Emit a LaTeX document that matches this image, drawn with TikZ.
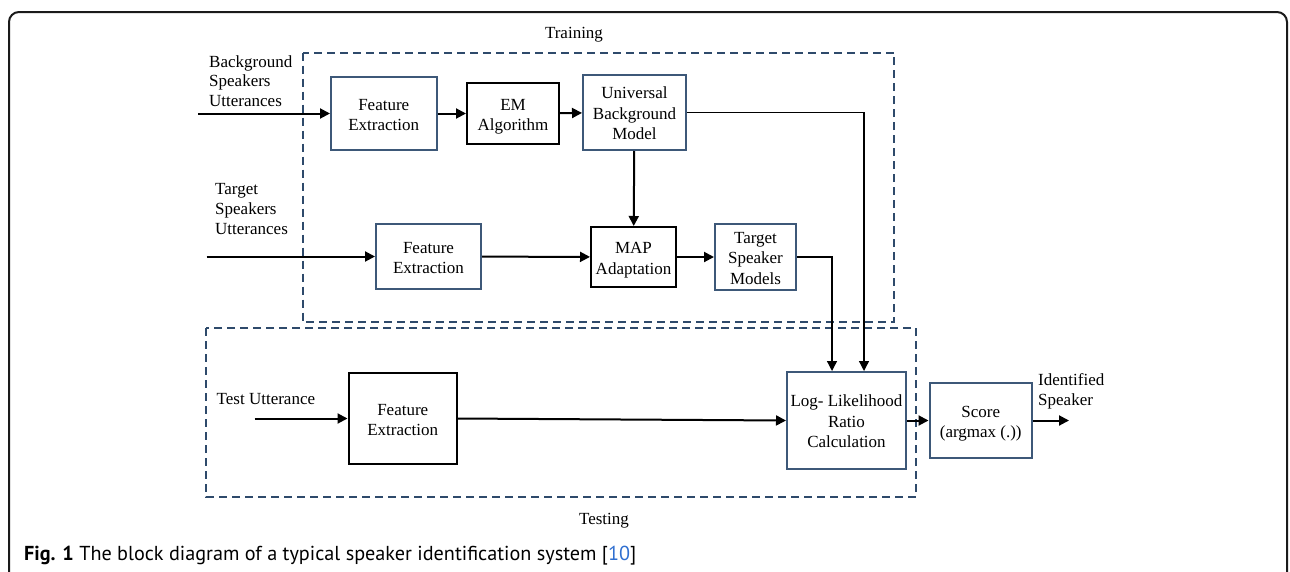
\documentclass[tikz,border=0pt]{standalone}
\usepackage{fontspec}
\setmainfont{Liberation Serif}
\newfontfamily\capfont{PT Sans}
\usetikzlibrary{arrows.meta}
\definecolor{framegray}{HTML}{1A1A1A}
\definecolor{dashblue}{HTML}{2E4A6B}
\definecolor{boxblue}{HTML}{3D5878}
\definecolor{refblue}{HTML}{2F6FD0}
% strut opening the first line of a block label
\newcommand\tstr{\rule{0pt}{17.5pt}}
\tikzset{
  lbl/.style={font=\fontsize{17}{19.7}\selectfont, inner sep=0pt},
  % block text gets fixed top/bottom struts so every label sits centred
  blockbase/.style={font=\fontsize{17}{20.5}\selectfont, inner sep=0pt,
    draw, line width=2pt, align=center, minimum width=#1,
    execute at end node={\rule[-4pt]{0pt}{4pt}}},
  bluebox/.style={blockbase=#1, draw=boxblue},
  blackbox/.style={blockbase=#1, draw=black},
  flow/.style={line width=2pt, -{Triangle[length=10pt,width=10pt]}},
  thinflow/.style={line width=1.3pt, -{Triangle[length=10pt,width=10pt]}},
  region/.style={draw=dashblue, line width=2pt, dash pattern=on 8pt off 5pt},
}
\begin{document}
\begin{tikzpicture}[x=1pt,y=-1pt]
\useasboundingbox (0,0) rectangle (1290,571);
\begin{scope}
\clip (0,0) rectangle (1290,571);
\draw[framegray, line width=2pt, rounded corners=10pt] (9,12) rectangle (1287,620);
\end{scope}

% training and testing regions
\draw[region] (302.5,52.5) rectangle (894,322);
\draw[region] (206,328) rectangle (916,497);
\node[lbl] (training) at (574,35) {Training};
\node[lbl] (testing) at (604,521) {Testing};

% training blocks
\node[bluebox=105.5pt, minimum height=73pt] (fe1) at (383.75,113.5) {\tstr Feature\\Extraction};
\node[blackbox=92pt, minimum height=61pt] (em) at (513,113.5) {\tstr EM\\Algorithm};
\node[bluebox=103pt, minimum height=75pt] (ubm) at (634.5,112.5) {\tstr Universal\\Background\\Model};
\node[bluebox=105pt, minimum height=65pt] (fe2) at (428.5,256.5) {\tstr Feature\\Extraction};
\node[blackbox=85pt, minimum height=60pt] (map) at (633.5,257) {\tstr MAP\\Adaptation};
\node[bluebox=81pt, minimum height=66pt] (tsm) at (755.5,257) {\tstr Target\\Speaker\\Models};

% testing blocks
\node[blackbox=108.5pt, minimum height=91pt] (tfe) at (402.75,418.5) {\tstr Feature\\Extraction};
\node[bluebox=119pt, minimum height=97pt] (llr) at (846.5,420.5) {\tstr Log- Likelihood\\Ratio\\Calculation};
\node[bluebox=102.5pt, minimum height=75pt] (score) at (980.75,420.5) {\tstr Score\\(argmax (.))};

% inputs and output labels
\node[lbl, anchor=west, align=left] (bgtxt) at (209,81) {Background\\Speakers\\Utterances};
\node[lbl, anchor=west, align=left] (tgtxt) at (215,209) {Target\\Speakers\\Utterances};
\node[lbl, anchor=west] (testtxt) at (216.5,399.5) {Test Utterance};
\node[lbl, anchor=west, align=left] (idtxt) at (1038,391) {Identified\\Speaker};

\coordinate (in1) at (198,113.5);
\coordinate (in2) at (206.5,256.5);
\coordinate (in3) at (254.5,418.5);
\coordinate (out) at (1069,420.5);

% connectors
\draw[flow] (in1) -- (fe1);
\draw[flow] (fe1) -- (em);
\draw[flow] (em) -- (ubm);
\draw[flow] (ubm) -- (map);
\draw[flow] (in2) -- (fe2);
\draw[flow] (fe2) -- (map);
\draw[flow] (map) -- (tsm);
\draw[thinflow] (ubm.east) -| ([xshift=17.5pt]llr.north);
\draw[thinflow] (tsm.east) -| ([xshift=-14.5pt]llr.north);
\draw[flow] (in3) -- (tfe);
\draw[flow] (tfe.east) -- (llr.west);
\draw[flow] (llr) -- (score);
\draw[flow] (score) -- (out);

% caption
\node[anchor=west, inner sep=0pt, font=\capfont\fontsize{20.2}{24}\selectfont] (caption) at (24,556)
  {\textbf{Fig. 1} The block diagram of a typical speaker identification system [\textcolor{refblue}{10}]};
\end{tikzpicture}
\end{document}
